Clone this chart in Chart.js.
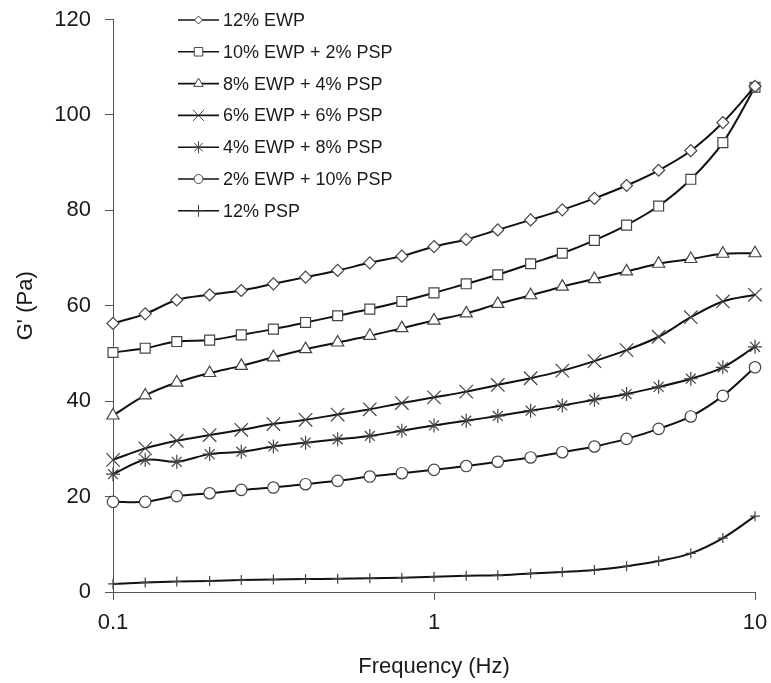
<!DOCTYPE html>
<html>
<head>
<meta charset="utf-8">
<script src="https://cdn.jsdelivr.net/npm/chart.js@4/dist/chart.umd.min.js"></script>
<style>
  html, body { margin: 0; padding: 0; background: #fff; }
  #wrap { width: 771px; height: 683px; }
</style>
</head>
<body>
<div id="wrap"><canvas id="myChart" width="771" height="683"></canvas></div>
<script>
// frequency points (Hz)
const freq = [0.1, 0.126, 0.158, 0.2, 0.251, 0.316, 0.398, 0.501, 0.631, 0.794, 1,
  1.26, 1.58, 2, 2.51, 3.16, 3.98, 5.01, 6.31, 7.94, 10];

const ewp12 = [56.3, 58.3, 61.2, 62.3, 63.2, 64.6, 66.0, 67.4, 69.0, 70.4, 72.4, 73.9, 75.9, 78.0, 80.1, 82.5, 85.2, 88.4, 92.5, 98.4, 106.0];
const ewp10psp2 = [50.2, 51.1, 52.5, 52.8, 53.9, 55.1, 56.5, 57.9, 59.3, 60.9, 62.7, 64.6, 66.5, 68.8, 71.0, 73.7, 76.9, 80.9, 86.5, 94.2, 105.8];
const ewp8psp4 = [37.0, 41.2, 43.9, 45.9, 47.4, 49.2, 50.9, 52.3, 53.7, 55.3, 56.9, 58.4, 60.4, 62.2, 64.0, 65.6, 67.2, 68.8, 69.8, 70.9, 71.0];
const ewp6psp6 = [27.7, 30.1, 31.7, 32.9, 34.0, 35.2, 36.1, 37.2, 38.3, 39.6, 40.8, 42.0, 43.4, 44.8, 46.4, 48.4, 50.7, 53.5, 57.6, 60.9, 62.3];
const ewp4psp8 = [24.7, 27.7, 27.3, 28.9, 29.4, 30.5, 31.3, 32.0, 32.7, 33.8, 34.9, 35.9, 36.9, 38.0, 39.1, 40.3, 41.5, 43.0, 44.7, 47.1, 51.4];
const ewp2psp10 = [18.9, 18.9, 20.1, 20.7, 21.4, 21.9, 22.6, 23.3, 24.2, 24.9, 25.6, 26.4, 27.3, 28.2, 29.3, 30.5, 32.1, 34.2, 36.8, 41.1, 47.1];
const psp12 = [1.7, 2.0, 2.2, 2.3, 2.5, 2.6, 2.7, 2.8, 2.9, 3.0, 3.2, 3.4, 3.5, 3.9, 4.2, 4.6, 5.4, 6.5, 8.1, 11.3, 15.9];

const seriesNames = ['12% EWP', '10% EWP + 2% PSP', '8% EWP + 4% PSP', '6% EWP + 6% PSP',
  '4% EWP + 8% PSP', '2% EWP + 10% PSP', '12% PSP'];
const seriesValues = [ewp12, ewp10psp2, ewp8psp4, ewp6psp6, ewp4psp8, ewp2psp10, psp12];
const xTickValues = [0.1, 1, 10];
const yTickLabels = [0, 20, 40, 60, 80, 100, 120];

const FONT = "'Liberation Sans', Arial, sans-serif";
const markers = [
  { style: 'rectRot', r: 6, legendR: 4 },
  { style: 'rect', r: 7, legendR: 6 },
  { style: 'triangle', r: 7, legendR: 5.5 },
  { style: 'crossRot', r: 9.5, legendR: 8 },
  { style: 'star', r: 7, legendR: 6 },
  { style: 'circle', r: 5.7, legendR: 4.5 },
  { style: 'cross', r: 5, legendR: 6 },
];

const datasets = seriesValues.map((vals, i) => ({
  label: seriesNames[i],
  data: vals.map((v, j) => ({ x: freq[j], y: v })),
  borderColor: '#111',
  borderWidth: 2,
  tension: 0.35,
  pointStyle: markers[i].style,
  pointRadius: markers[i].r,
  pointBackgroundColor: '#fff',
  pointBorderColor: '#444',
  pointBorderWidth: 1.2,
  clip: false,
}));

// legend drawn as line + marker, like the original
const lineLegend = {
  id: 'lineLegend',
  afterDraw(chart) {
    const ctx = chart.ctx;
    const drawPoint = Chart.helpers.drawPoint;
    ctx.save();
    chart.data.datasets.forEach((ds, i) => {
      const y = 20 + i * 31.8;
      ctx.strokeStyle = '#111';
      ctx.lineWidth = 1.6;
      ctx.beginPath();
      ctx.moveTo(178, y);
      ctx.lineTo(219, y);
      ctx.stroke();
      ctx.fillStyle = '#fff';
      ctx.strokeStyle = '#444';
      ctx.lineWidth = 1;
      drawPoint(ctx, { pointStyle: ds.pointStyle, rotation: 0, radius: markers[i].legendR, borderWidth: 1 }, 198.5, y);
      ctx.fillStyle = '#1a1a1a';
      ctx.font = '18px ' + FONT;
      ctx.textBaseline = 'middle';
      ctx.textAlign = 'left';
      ctx.fillText(ds.label, 223, y + 1);
    });
    ctx.restore();
  }
};

new Chart(document.getElementById('myChart'), {
  type: 'line',
  data: { datasets },
  plugins: [lineLegend],
  options: {
    responsive: false,
    animation: false,
    layout: { padding: { top: 19.5, right: 16, left: 0, bottom: 0 } },
    plugins: {
      legend: { display: false },
      tooltip: { enabled: false },
    },
    scales: {
      x: {
        type: 'logarithmic',
        min: 0.1,
        max: 10,
        afterBuildTicks: (scale) => { scale.ticks = xTickValues.map(v => ({ value: v })); },
        afterFit: (scale) => {
          scale.height = 91;
          scale.paddingLeft = 0;
          scale.paddingRight = 0;
        },
        ticks: {
          color: '#1a1a1a',
          font: { family: FONT, size: 22 },
          padding: 10,
          maxRotation: 0,
          callback: (v) => String(v),
        },
        grid: { drawOnChartArea: false, drawTicks: true, tickLength: 8, color: '#555' },
        border: { color: '#555', width: 1 },
        title: {
          display: true,
          text: 'Frequency (Hz)',
          color: '#1a1a1a',
          font: { family: FONT, size: 22 },
          padding: { top: 0, bottom: 3 },
        },
      },
      y: {
        min: 0,
        max: 120,
        afterBuildTicks: (scale) => { scale.ticks = yTickLabels.map(v => ({ value: v })); },
        afterFit: (scale) => {
          scale.width = 113;
          scale.paddingTop = 0;
          scale.paddingBottom = 0;
        },
        ticks: {
          color: '#1a1a1a',
          font: { family: FONT, size: 22 },
          padding: 14,
        },
        grid: { drawOnChartArea: false, drawTicks: true, tickLength: 8, color: '#555' },
        border: { color: '#555', width: 1 },
        title: {
          display: true,
          text: "G' (Pa)",
          color: '#1a1a1a',
          font: { family: FONT, size: 22 },
          padding: { top: 13, bottom: 0 },
        },
      },
    },
  },
});
</script>
</body>
</html>
